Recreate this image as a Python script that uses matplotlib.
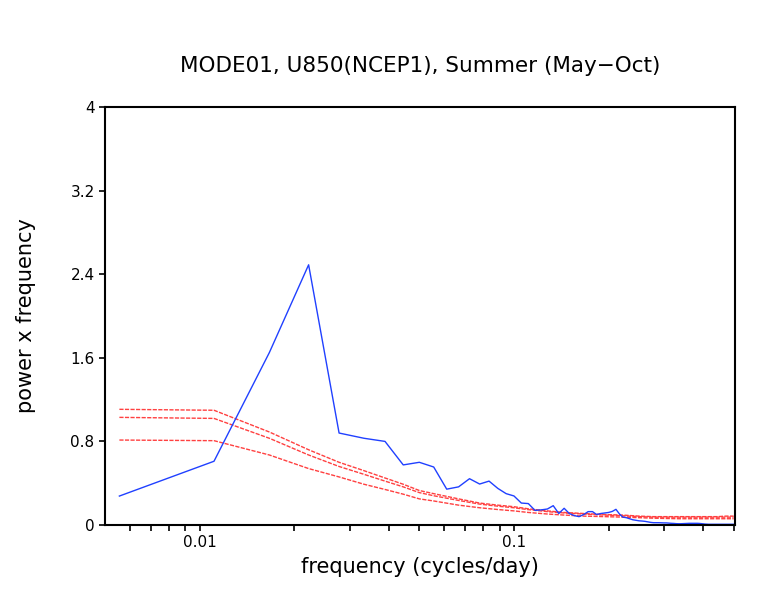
import numpy as np
import matplotlib
matplotlib.use("Agg")
import matplotlib.pyplot as plt
from matplotlib.ticker import FixedLocator, NullFormatter, FixedFormatter

# ---- data ----
n_days = 180
harmonic = np.arange(1, 91)
freq = harmonic / n_days

power = [0.277, 0.61, 1.65, 2.49, 0.88, 0.83, 0.80, 0.575, 0.60, 0.555,
         0.343, 0.365, 0.443, 0.392, 0.42, 0.35, 0.30, 0.278, 0.21, 0.205,
         0.14, 0.145, 0.153, 0.185, 0.11, 0.16, 0.11, 0.09, 0.08, 0.10,
         0.128, 0.128, 0.10, 0.11, 0.115, 0.12, 0.13, 0.15, 0.105, 0.075,
         0.07, 0.06, 0.05, 0.045, 0.04, 0.038, 0.035, 0.03, 0.025, 0.022,
         0.022, 0.022, 0.021, 0.02, 0.02, 0.018, 0.016, 0.015, 0.013, 0.012,
         0.012, 0.013, 0.014, 0.015, 0.016, 0.016, 0.016, 0.016, 0.016, 0.015,
         0.013, 0.011, 0.009, 0.008, 0.007, 0.007, 0.007, 0.007, 0.007, 0.007,
         0.007, 0.007, 0.007, 0.007, 0.007, 0.007, 0.007, 0.007, 0.007, 0.007]

red_harmonic = [1, 2, 3, 4, 5, 6, 7, 8, 9, 10, 12, 14, 16, 18, 20, 23, 26, 30,
                35, 40, 45, 50, 60, 70, 80, 85, 90]
red_upper = [1.107, 1.098, 0.89, 0.72, 0.60, 0.52, 0.45, 0.39, 0.33, 0.30,
             0.25, 0.21, 0.19, 0.175, 0.155, 0.135, 0.12, 0.11, 0.10, 0.095,
             0.085, 0.08, 0.08, 0.08, 0.08, 0.085, 0.085]
red_mid = [1.03, 1.02, 0.83, 0.67, 0.56, 0.485, 0.42, 0.365, 0.31, 0.28,
           0.235, 0.20, 0.18, 0.165, 0.147, 0.128, 0.115, 0.105, 0.095, 0.088,
           0.08, 0.075, 0.075, 0.075, 0.075, 0.075, 0.075]
red_lower = [0.813, 0.807, 0.67, 0.54, 0.46, 0.39, 0.34, 0.295, 0.25, 0.23,
             0.19, 0.165, 0.148, 0.135, 0.12, 0.105, 0.095, 0.085, 0.08, 0.075,
             0.07, 0.065, 0.06, 0.06, 0.06, 0.06, 0.06]

xmajor = [0.01, 0.1]
xmajor_labels = ["0.01", "0.1"]
yticks = [0, 0.8, 1.6, 2.4, 3.2, 4]
ytick_labels = ["0", "0.8", "1.6", "2.4", "3.2", "4"]

title = "MODE01, U850(NCEP1), Summer (May\u2212Oct)"
xlabel = "frequency (cycles/day)"
ylabel = "power x frequency"

# ---- plot ----
plt.rcParams['font.family'] = ['DejaVu Sans']
fig = plt.figure(figsize=(7.7, 5.95), dpi=100)
ax = fig.add_axes([105/770, 1-525/595, 630/770, 418/595])

red_f = np.array(red_harmonic) / n_days
red_color = '#ff4040'
for vals in (red_upper, red_mid, red_lower):
    ax.plot(red_f, vals, color=red_color, lw=1.0, linestyle=(0, (3, 1)))
ax.plot(freq, power, color='#2040ff', lw=1.0)

ax.set_xscale('log')
ax.set_xlim(0.005, 0.505)
ax.set_ylim(0, 4)

ax.xaxis.set_major_locator(FixedLocator(xmajor))
ax.xaxis.set_major_formatter(FixedFormatter(xmajor_labels))
minors = [m * d for d in (0.001, 0.01, 0.1) for m in range(2, 10)]
minors = [v for v in minors if 0.005 < v <= 0.5]
ax.xaxis.set_minor_locator(FixedLocator(minors))
ax.xaxis.set_minor_formatter(NullFormatter())
ax.set_yticks(yticks)
ax.set_yticklabels(ytick_labels)

ax.tick_params(axis='both', which='both', direction='out', length=4.5, width=1.2,
               labelsize=11, pad=3, color='black')
for s in ax.spines.values():
    s.set_linewidth(1.5)

ax.set_title(title, fontsize=15.5, pad=25)
ax.set_xlabel(xlabel, fontsize=15, labelpad=5)
ax.set_ylabel(ylabel, fontsize=15, labelpad=25)

fig.savefig("out.png", dpi=100)
